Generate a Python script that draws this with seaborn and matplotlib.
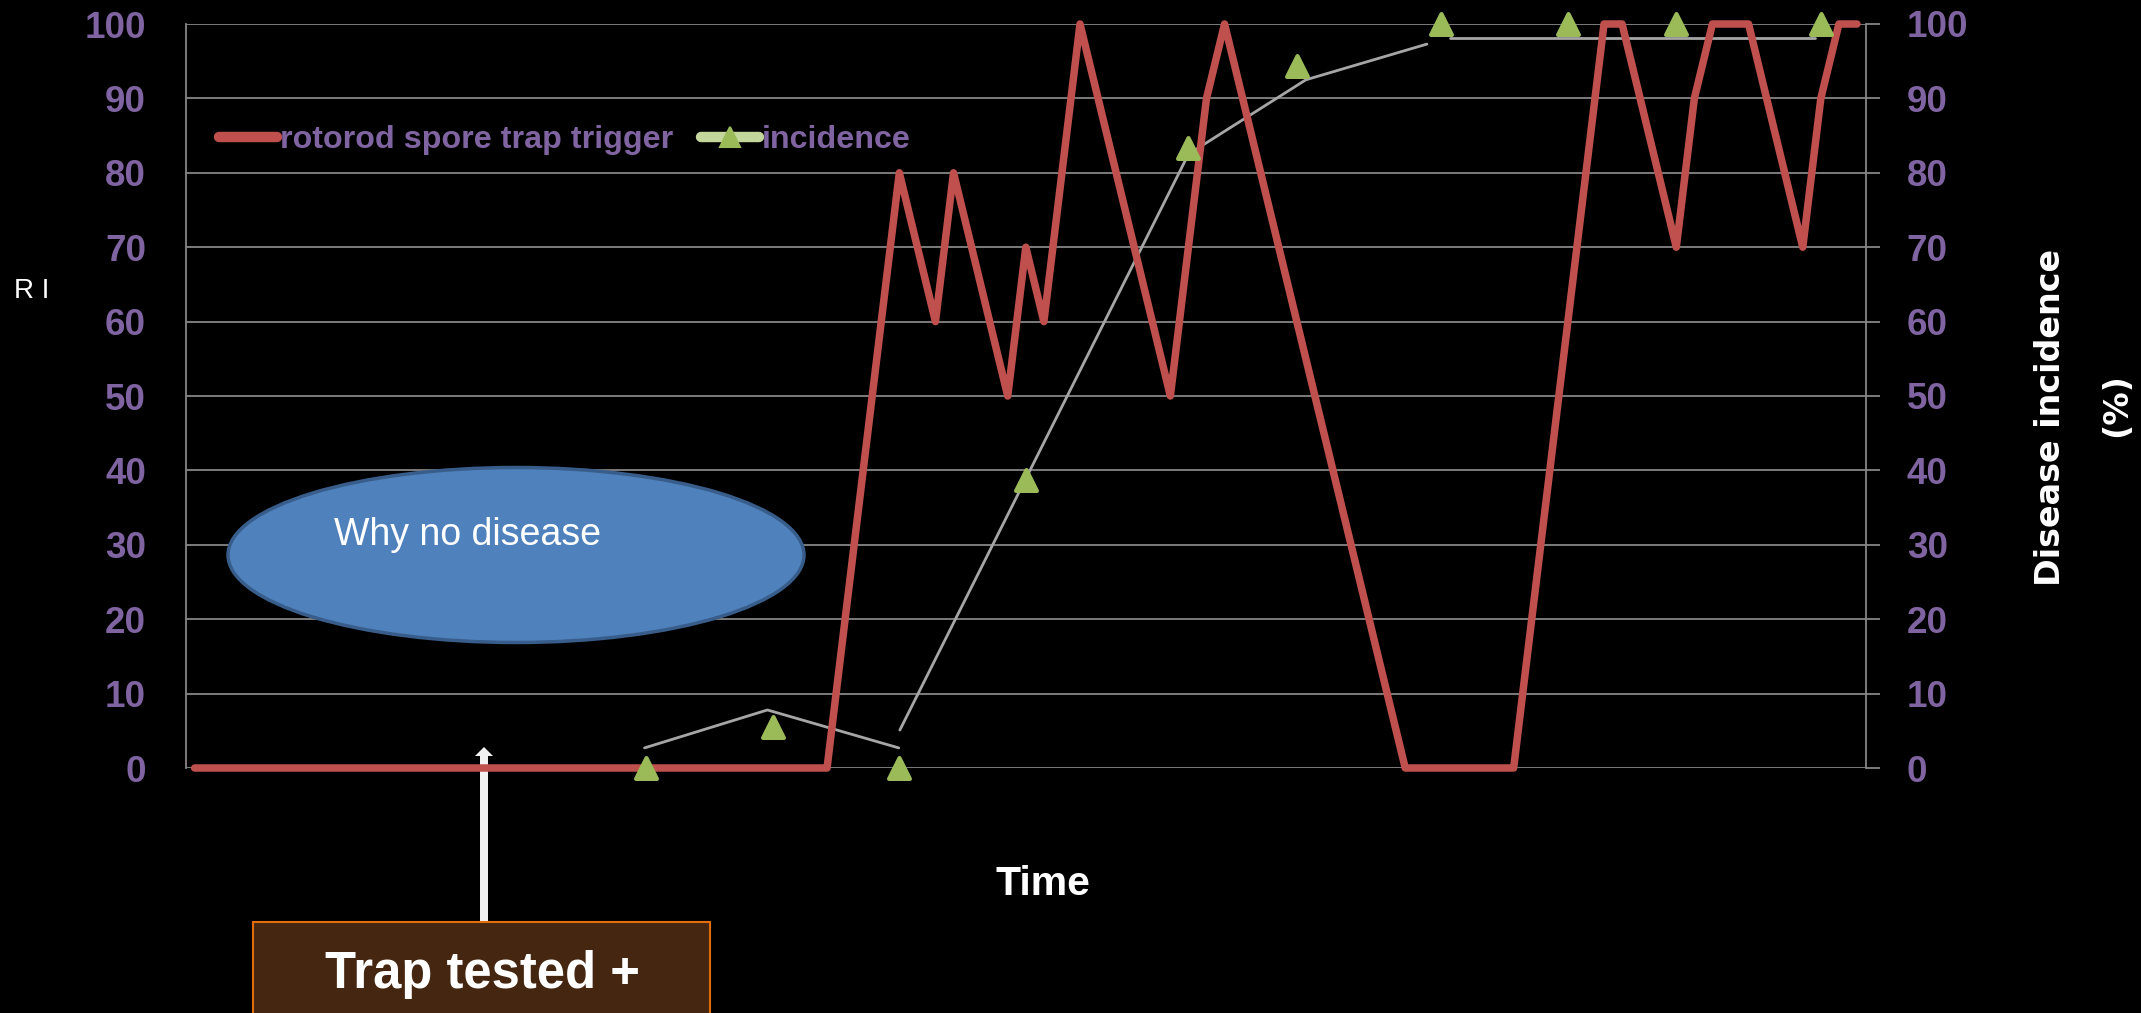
import numpy as np
import pandas as pd
import matplotlib
matplotlib.use("Agg")
import matplotlib.pyplot as plt
import seaborn as sns
from matplotlib.lines import Line2D
from matplotlib.patches import Ellipse, Rectangle, FancyArrow
from matplotlib.transforms import IdentityTransform

# ---- data -------------------------------------------------------------
# rotorod spore trap trigger (left axis), day index -> value
trap_day = [0, 35, 39, 41, 42, 45, 46, 47, 49, 54, 56, 57, 67, 73,
            78, 79, 82, 83, 84, 86, 89, 90, 91, 92]
trap_value = [0, 0, 80, 60, 80, 50, 70, 60, 100, 50, 90, 100, 0, 0,
              100, 100, 70, 90, 100, 100, 70, 90, 100, 100]

# disease incidence assessments (right axis, %)
inc_day = [25, 32, 39, 46, 55, 61, 69, 76, 82, 90]
inc_value = [0, 5.5, 0, 38.7, 83.3, 94.3, 100, 100, 100, 100]

# incidence progress curve, drawn as three pieces
trend_day = [24.9, 31.7, 38.97, 39.03, 55.0, 61.5, 68.2, 69.5, 89.7]
trend_value = [2.7, 7.8, 2.7, 5.1, 82.5, 92.5, 97.3, 98.1, 98.1]
trend_piece = [1, 1, 1, 2, 2, 2, 2, 3, 3]

n_days = 93
y_ticks = list(range(0, 101, 10))

# ---- style ------------------------------------------------------------
sns.set_theme(style="dark", rc={
    "figure.facecolor": "black",
    "axes.facecolor": "black",
    "savefig.facecolor": "black",
})
plt.rcParams["font.family"] = ["Liberation Sans", "DejaVu Sans"]

PURPLE = "#8064A2"
RED = "#C0504D"
GREEN = "#9BBB59"
LIGHT_GREEN = "#C3D69B"
GRID = "#868686"

W, H = 2141, 1013
fig = plt.figure(figsize=(W / 100, H / 100), dpi=100)
fig.patch.set_facecolor("black")

x0, x1 = 185.6, 1866.0
y_top, y_bot = 24.0, 768.0
ax = fig.add_axes([x0 / W, 1 - y_bot / H, (x1 - x0) / W, (y_bot - y_top) / H])
ax.set_facecolor("black")
ax2 = ax.twinx()

trap_df = pd.DataFrame({"day": trap_day, "value": trap_value})
inc_df = pd.DataFrame({"day": inc_day, "value": inc_value})
trend_df = pd.DataFrame({"day": trend_day, "value": trend_value,
                         "piece": trend_piece})

# incidence curve (behind the trap line)
sns.lineplot(data=trend_df, x="day", y="value", units="piece",
             estimator=None, sort=False, color="#A6A6A6", linewidth=2.0,
             ax=ax, zorder=2, legend=False)

# spore trap trigger
sns.lineplot(data=trap_df, x="day", y="value", estimator=None, sort=False,
             color=RED, linewidth=5.4, ax=ax, zorder=3, legend=False)
for ln in ax.lines:
    ln.set_clip_on(False)

# incidence markers on the secondary axis
sns.scatterplot(data=inc_df, x="day", y="value", marker="^", s=15 ** 2,
                color=GREEN, edgecolor=GREEN, linewidth=3.0, ax=ax2,
                zorder=5, legend=False, clip_on=False)
for coll in ax2.collections:
    coll.set_joinstyle("round")

for a in (ax, ax2):
    a.set_xlim(-0.5, n_days - 0.5)
    a.set_ylim(0, 100)
    a.set_yticks(y_ticks)
    a.set_xticks([])
    a.set_xlabel("")
    a.set_ylabel("")
    for s in a.spines.values():
        s.set_visible(False)

ax.yaxis.grid(True, color=GRID, linewidth=1.3)
ax.xaxis.grid(False)
ax.set_axisbelow(True)
ax2.grid(False)
ax.spines["left"].set_visible(True)
ax.spines["left"].set_color(GRID)
ax.spines["left"].set_linewidth(1.3)
ax2.spines["right"].set_visible(True)
ax2.spines["right"].set_color(GRID)
ax2.spines["right"].set_linewidth(1.3)

ax.tick_params(axis="y", left=True, length=0, pad=28.5, labelcolor=PURPLE,
               labelsize=26.5)
ax2.tick_params(axis="y", right=True, length=9.8, width=1.3, color=GRID,
                pad=19.5, labelcolor=PURPLE, labelsize=26.5)
for a in (ax, ax2):
    for lab in a.get_yticklabels():
        lab.set_family("Liberation Sans")
        lab.set_fontweight("bold")
        lab.set_color(PURPLE)

# ---- legend -----------------------------------------------------------
handles = [
    Line2D([], [], color=RED, linewidth=7.5, solid_capstyle="round"),
    Line2D([], [], color=LIGHT_GREEN, linewidth=7.5, solid_capstyle="round",
           marker="^", markersize=15, markerfacecolor=GREEN,
           markeredgecolor=GREEN, markeredgewidth=1.5),
]
leg = fig.legend(handles, ["rotorod spore trap trigger", "incidence"],
                 loc="center left", bbox_to_anchor=(219 / W, 1 - 140 / H),
                 ncol=2, frameon=False, handlelength=1.8,
                 handletextpad=0.1, columnspacing=0.85, borderpad=0,
                 borderaxespad=0,
                 prop=dict(family="Liberation Sans", weight="bold", size=23.2))
for t in leg.get_texts():
    t.set_color(PURPLE)

# ---- axis titles ------------------------------------------------------
fig.text(1043 / W, 1 - 895 / H, "Time", ha="center", va="baseline",
         color="white", fontsize=29.5, fontweight="bold",
         family="Liberation Sans")
fig.text(14 / W, 1 - 298 / H, "R I", ha="left", va="baseline",
         color="white", fontsize=20, family="Liberation Sans")
fig.text(2051 / W, 1 - 417 / H, "Disease incidence", rotation=90,
         ha="center", va="center", color="white", fontsize=24,
         fontweight="bold", family="DejaVu Sans")
fig.text(2117 / W, 1 - 405 / H, "(%)", rotation=90,
         ha="center", va="center", color="white", fontsize=24,
         fontweight="bold", family="DejaVu Sans")

# ---- annotations ------------------------------------------------------
ell = Ellipse((516 / W, 1 - 555 / H), 576 / W, 175 / H,
              transform=fig.transFigure, facecolor="#4F81BD",
              edgecolor="#385D8A", linewidth=2.5, zorder=5)
fig.add_artist(ell)
fig.text(334 / W, 1 - 545 / H, "Why no disease", ha="left", va="baseline",
         color="white", fontsize=27, family="Liberation Sans", zorder=6)

box = Rectangle((252.7, H - 1040), 457.3, 1040 - 922, transform=IdentityTransform(),
                facecolor="#452610", edgecolor="#E46C0A", linewidth=1.5,
                zorder=5)
fig.add_artist(box)
fig.text(482 / W, 1 - 988 / H, "Trap tested +", ha="center", va="baseline",
         color="white", fontsize=36.5, fontweight="bold",
         family="Liberation Sans", zorder=6)

arrow = FancyArrow(484, H - 922, 0, 922 - 747, width=8, head_width=18,
                   head_length=9, length_includes_head=True,
                   transform=IdentityTransform(), facecolor="#F2F2F2",
                   edgecolor="none", zorder=1, clip_on=False)
ax.add_patch(arrow)

fig.savefig("out.png", dpi=100, facecolor="black")
